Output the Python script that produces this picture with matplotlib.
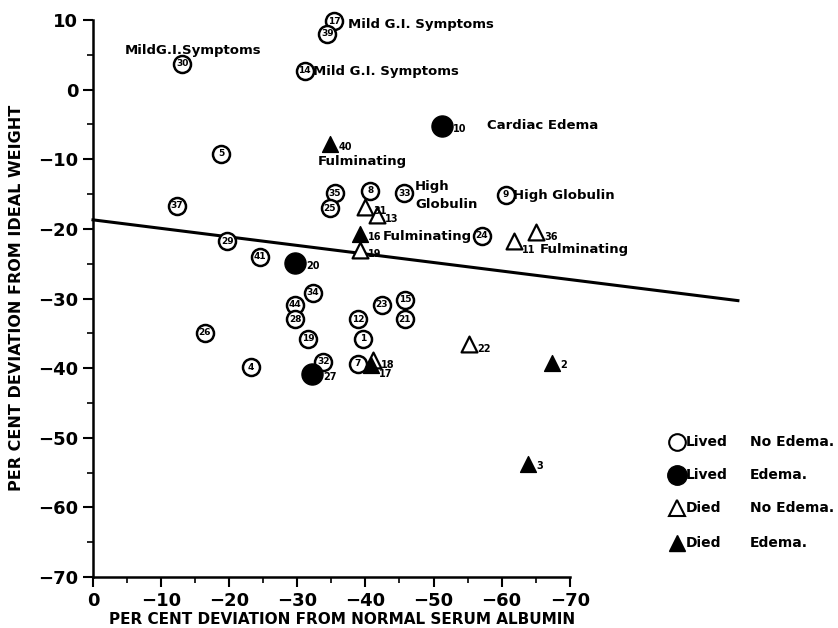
import matplotlib
matplotlib.use("Agg")
import matplotlib.pyplot as plt
from matplotlib.lines import Line2D

plt.rcParams['font.family'] = ['DejaVu Sans']
plt.rcParams['font.weight'] = 'bold'

# ---- data ----
# Lived, no edema (open circles): albumin deviation, weight deviation, case number
lne_x = [-35.4, -34.4, -13.1, -31.1, -18.8, -12.3, -40.7, -35.5, -34.8, -45.7, -60.6, -57.1,
         -19.7, -24.5, -32.3, -29.7, -29.7, -31.6, -16.4, -23.2, -33.8, -38.9, -39.6, -38.9,
         -42.4, -45.8, -45.8]
lne_y = [9.8, 8.0, 3.7, 2.7, -9.2, -16.7, -14.5, -14.9, -17.0, -14.9, -15.1, -21.0,
         -21.8, -24.0, -29.2, -30.9, -33.0, -35.8, -34.9, -39.9, -39.1, -33.0, -35.8, -39.4,
         -30.9, -30.2, -33.0]
lne_id = ['17', '39', '30', '14', '5', '37', '8', '35', '25', '33', '9', '24',
          '29', '41', '34', '44', '28', '19', '26', '4', '32', '12', '1', '7',
          '23', '15', '21']

# Lived, edema (filled circles)
le_x = [-51.2, -29.7, -32.2]
le_y = [-5.2, -24.9, -40.9]
le_id = ['10', '20', '27']

# Died, no edema (open triangles)
dne_x = [-39.9, -41.7, -39.2, -61.8, -65.1, -55.2, -41.1]
dne_y = [-16.8, -18.0, -23.0, -21.7, -20.5, -36.6, -38.9]
dne_id = ['31', '13', '19', '11', '36', '22', '18']

# Died, edema (filled triangles)
de_x = [-34.8, -39.2, -40.8, -67.4, -63.9]
de_y = [-7.8, -20.8, -39.5, -39.2, -53.7]
de_id = ['40', '16', '17', '2', '3']

# regression line end points
reg_x = [0.0, -94.7]
reg_y = [-18.7, -30.3]

# annotations
notes = [
    (-37.4, 9.3, "Mild G.I. Symptoms"),
    (-4.7, 5.6, "MildG.I.Symptoms"),
    (-32.3, 2.6, "Mild G.I. Symptoms"),
    (-57.9, -5.2, "Cardiac Edema"),
    (-33.0, -10.3, "Fulminating"),
    (-47.3, -13.9, "High"),
    (-47.3, -16.5, "Globulin"),
    (-61.7, -15.2, "High Globulin"),
    (-42.6, -21.1, "Fulminating"),
    (-65.6, -23.0, "Fulminating"),
]

xticks = [0, -10, -20, -30, -40, -50, -60, -70]
yticks = [10, 0, -10, -20, -30, -40, -50, -60, -70]

legend_labels = [("Lived", "No Edema."), ("Lived", "Edema."),
                 ("Died", "No Edema."), ("Died", "Edema.")]

# ---- figure ----
W, H = 838, 628
fig = plt.figure(figsize=(W / 100, H / 100), dpi=100)
ax = fig.add_axes([93 / W, 0.0812, 96 * 6.81 / W, 0.9035])
ax.set_xlim(0, -96)
ax.set_ylim(-70, 11.5)

for s in ['top', 'right']:
    ax.spines[s].set_visible(False)
for s in ['left', 'bottom']:
    ax.spines[s].set_linewidth(1.8)
ax.spines['left'].set_bounds(-70, 10)
ax.spines['bottom'].set_bounds(0, -70)

ax.set_xticks(xticks)
ax.set_yticks(yticks)
ax.set_xticks([-5, -15, -25, -35, -45, -55, -65], minor=True)
ax.set_yticks([5, -5, -15, -25, -35, -45, -55, -65], minor=True)
ax.tick_params(which='major', length=7, width=1.5, labelsize=13, direction='out')
ax.tick_params(which='minor', length=4, width=1.2, direction='out')
ax.set_xticklabels(["0"] + ["\u2212%d" % abs(v) for v in xticks[1:]])
ax.set_yticklabels(["%d" % v if v >= 0 else "\u2212%d" % abs(v) for v in yticks])
for lab in ax.get_xticklabels() + ax.get_yticklabels():
    lab.set_fontweight('bold')

# regression line
ax.plot(reg_x, reg_y, color='black', lw=2.2, clip_on=False, zorder=1)

# lived no edema
ax.scatter(lne_x, lne_y, s=150, facecolor='white', edgecolor='black', linewidth=1.8, zorder=3)
for x, y, t in zip(lne_x, lne_y, lne_id):
    ax.text(x, y, t, ha='center', va='center', fontsize=6.5, fontweight='bold', zorder=4)

# lived edema
ax.scatter(le_x, le_y, s=230, facecolor='black', edgecolor='black', zorder=3)
for x, y, t in zip(le_x, le_y, le_id):
    ax.annotate(t, (x, y), xytext=(8, -2), textcoords='offset points',
                fontsize=7, fontweight='bold', va='center')

# died no edema
ax.scatter(dne_x, dne_y, s=130, marker='^', facecolor='white', edgecolor='black', linewidth=1.6, zorder=3)
for x, y, t in zip(dne_x, dne_y, dne_id):
    off = (6, -7) if t == '11' else (6, -3)
    ax.annotate(t, (x, y), xytext=off, textcoords='offset points',
                fontsize=7, fontweight='bold', va='center')

# died edema
ax.scatter(de_x, de_y, s=130, marker='^', facecolor='black', edgecolor='black', zorder=3)
for x, y, t in zip(de_x, de_y, de_id):
    ax.annotate(t, (x, y), xytext=(6, -2 if t != '17' else -7), textcoords='offset points',
                fontsize=7, fontweight='bold', va='center')

for x, y, t in notes:
    ax.text(x, y, t, fontsize=9.5, fontweight='bold', va='center', ha='left')

# axis labels
fig.text(17 / W, 1 - 298 / H, "PER CENT DEVIATION FROM IDEAL WEIGHT", rotation=90,
         ha='center', va='center', fontsize=11.5, fontweight='bold')
fig.text(342 / W, 1 - 619 / H, "PER CENT DEVIATION FROM NORMAL SERUM ALBUMIN",
         ha='center', va='center', fontsize=11, fontweight='bold')

# legend
leg_styles = [dict(marker='o', ms=12, mfc='white', mec='black', mew=1.5),
              dict(marker='o', ms=14, mfc='black', mec='black'),
              dict(marker='^', ms=11, mfc='white', mec='black', mew=1.5),
              dict(marker='^', ms=11, mfc='black', mec='black')]
leg_y = [442, 475, 508, 543]
for (w1, w2), st, yy in zip(legend_labels, leg_styles, leg_y):
    fy = 1 - yy / H
    fig.add_artist(Line2D([677 / W], [fy], linestyle='none', transform=fig.transFigure, **st))
    fig.text(686 / W, fy, w1, ha='left', va='center', fontsize=10, fontweight='bold')
    fig.text(750 / W, fy, w2, ha='left', va='center', fontsize=10, fontweight='bold')

fig.savefig("out.png", dpi=100)
